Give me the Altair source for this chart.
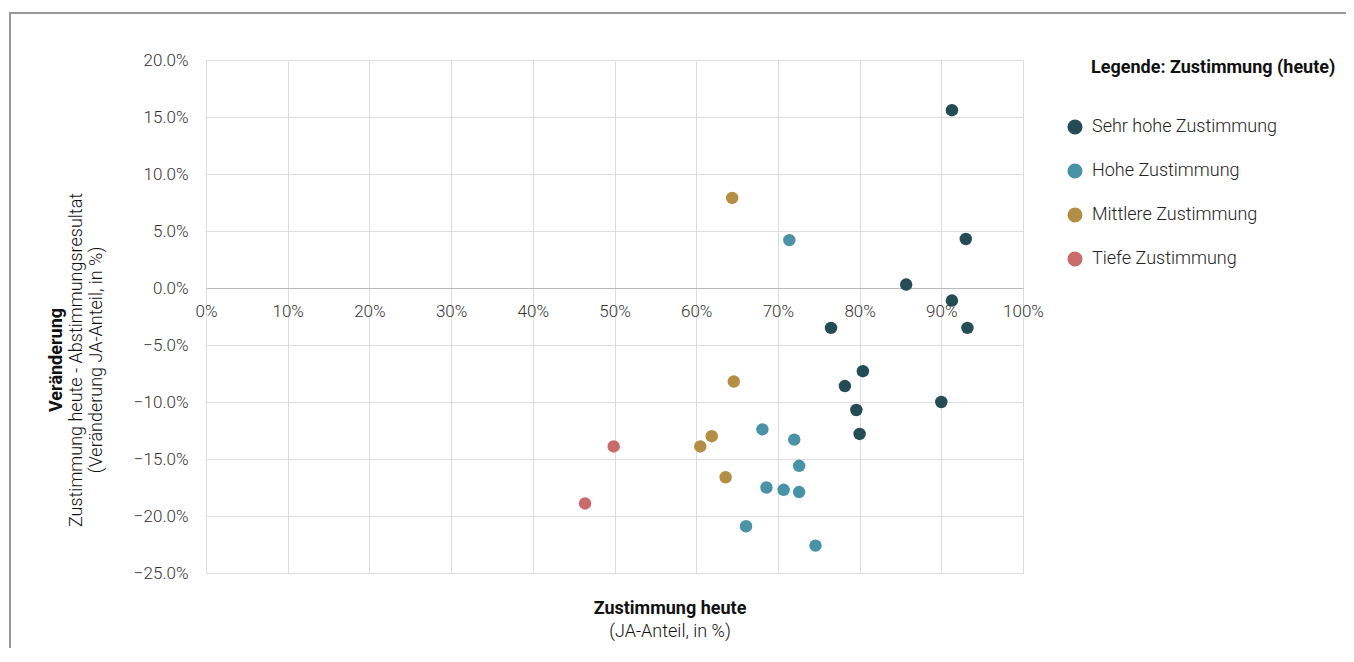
import altair as alt
import pandas as pd

categories = ["Sehr hohe Zustimmung", "Hohe Zustimmung", "Mittlere Zustimmung", "Tiefe Zustimmung"]
colors = ["#254b55", "#4a93a6", "#b38f46", "#c96b6b"]

# values in percent
x_sehr = [91.3, 93.0, 85.7, 91.3, 93.2, 76.5, 80.4, 78.2, 79.6, 90.0, 80.0]
y_sehr = [15.6, 4.3, 0.3, -1.1, -3.5, -3.5, -7.3, -8.6, -10.7, -10.0, -12.8]
x_hohe = [71.4, 68.1, 72.0, 72.6, 68.6, 70.7, 72.6, 66.1, 74.6]
y_hohe = [4.2, -12.4, -13.3, -15.6, -17.5, -17.7, -17.9, -20.9, -22.6]
x_mitt = [64.4, 64.6, 61.9, 60.5, 63.6]
y_mitt = [7.9, -8.2, -13.0, -13.9, -16.6]
x_tief = [49.9, 46.4]
y_tief = [-13.9, -18.9]

x_ticks = [0, 10, 20, 30, 40, 50, 60, 70, 80, 90, 100]
y_ticks = [20, 15, 10, 5, 0, -5, -10, -15, -20, -25]

rows = []
for cat, xs, ys in zip(categories, [x_sehr, x_hohe, x_mitt, x_tief], [y_sehr, y_hohe, y_mitt, y_tief]):
    for xv, yv in zip(xs, ys):
        rows.append({"x": xv / 100, "y": yv / 100, "Kategorie": cat})
df = pd.DataFrame(rows)

FONT = "Roboto"
W, H = 817, 513

points = alt.Chart(df).mark_circle(size=155, opacity=1).encode(
    x=alt.X("x:Q", scale=alt.Scale(domain=[0, 1], nice=False),
            axis=alt.Axis(values=[v / 100 for v in x_ticks], format=".0%", title=None,
                          offset=-285, domainColor="#bbbbbb", domainWidth=1,
                          ticks=False, tickSize=0, labelPadding=15,
                          labelFontSize=17, labelFont=FONT, labelFontWeight=300,
                          labelColor="#333333", gridColor="#dddddd", labelFlush=False)),
    y=alt.Y("y:Q", scale=alt.Scale(domain=[-0.25, 0.2], nice=False),
            axis=alt.Axis(values=[v / 100 for v in y_ticks], format=".1%", title=None,
                          domain=False, ticks=False, tickSize=0, labelPadding=18,
                          labelFontSize=17, labelFont=FONT, labelFontWeight=300,
                          labelColor="#333333", gridColor="#dddddd")),
    color=alt.Color("Kategorie:N",
                    scale=alt.Scale(domain=categories, range=colors),
                    legend=alt.Legend(title=None, orient="none", legendX=860, legendY=58,
                                      symbolType="circle", symbolSize=227, symbolStrokeWidth=0,
                                      symbolOpacity=1, labelFontSize=18, labelFont=FONT,
                                      labelFontWeight=300, labelColor="#222222", labelLimit=400,
                                      labelOffset=8, rowPadding=26, padding=0)),
)

one = pd.DataFrame({"t": [""]})

border = alt.Chart(one).mark_rect(fillOpacity=0, stroke="#999999", strokeWidth=2).encode(
    x=alt.value(-196), y=alt.value(-47), x2=alt.value(3000), y2=alt.value(3000)
)

def label(text, x, y, bold=False, angle=0, align="center", size=18, color="#111111"):
    return alt.Chart(pd.DataFrame({"t": [text]})).mark_text(
        font=FONT, fontSize=size, fontWeight="bold" if bold else 300,
        align=align, baseline="middle", angle=angle, color=color
    ).encode(text="t:N", x=alt.value(x), y=alt.value(y))

y_title_1 = "Veränderung"
y_title_2 = "Zustimmung heute - Abstimmungsresultat"
y_title_3 = "(Veränderung JA-Anteil, in %)"
x_title_1 = "Zustimmung heute"
x_title_2 = "(JA-Anteil, in %)"
legend_title = "Legende: Zustimmung (heute)"

texts = [
    label(y_title_1, -149, 300, bold=True, angle=270),
    label(y_title_2, -129, 300, angle=270),
    label(y_title_3, -109, 300, angle=270),
    label(x_title_1, 464, 549, bold=True),
    label(x_title_2, 464, 572),
    label(legend_title, 885, 8, bold=True, align="left"),
]

chart = alt.layer(border, points, *texts).properties(
    width=W, height=H,
    autosize=alt.AutoSizeParams(type="none"),
    padding={"left": 198, "top": 52, "right": 323, "bottom": 75},
).configure_view(stroke=None).configure(background="white")

chart.save("out.html", embed_options={"renderer": "svg", "actions": False})
